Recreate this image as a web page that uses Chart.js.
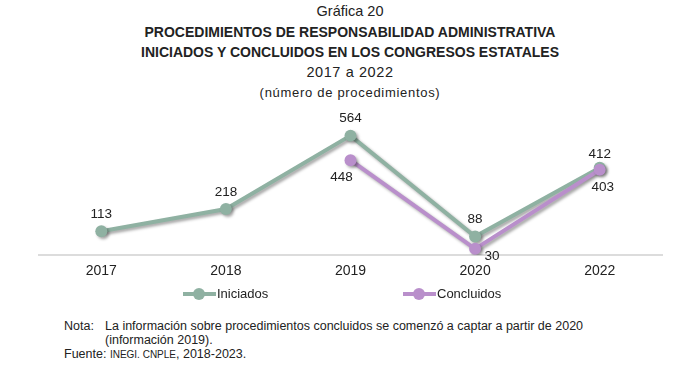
<!DOCTYPE html>
<html>
<head>
<meta charset="utf-8">
<script src="https://cdn.jsdelivr.net/npm/chart.js@4/dist/chart.umd.min.js"></script>
<style>
  body { margin: 0; background: #fff; font-family: "Liberation Sans", Arial, sans-serif; color: #222; }
  #wrap { position: relative; width: 700px; height: 375px; overflow: hidden; }
  .t { position: absolute; left: 0; width: 700px; text-align: center; white-space: nowrap; }
  #chartBox { position: absolute; left: 0; top: 0; width: 700px; height: 295px; }
  #legend { position: absolute; top: 286px; left: 0; width: 700px; height: 18px; font-size: 13px; }
  .lg { position: absolute; display: flex; align-items: center; }
  .sym { position: relative; width: 33px; height: 12px; margin-right: 1px; }
  .sym .ln { position: absolute; left: 0; right: 0; top: 4px; height: 4px; }
  .sym .dt { position: absolute; left: 10px; top: 0; width: 12px; height: 12px; border-radius: 50%; }
  .note { position: absolute; font-size: 12.5px; white-space: nowrap; }
</style>
</head>
<body>
<div id="wrap">
  <div class="t" style="top:3px;font-size:14.5px;">Gráfica 20</div>
  <div class="t" style="top:24px;font-size:14px;font-weight:bold;">PROCEDIMIENTOS DE RESPONSABILIDAD ADMINISTRATIVA</div>
  <div class="t" style="top:44px;font-size:14px;font-weight:bold;">INICIADOS Y CONCLUIDOS EN LOS CONGRESOS ESTATALES</div>
  <div class="t" style="top:64px;font-size:14.5px;letter-spacing:0.6px;">2017 a 2022</div>
  <div class="t" style="top:85px;font-size:13px;letter-spacing:0.7px;">(número de procedimientos)</div>
  <div id="chartBox"><canvas id="chart"></canvas></div>
  <div id="legend"></div>
  <div class="note" style="left:64px;top:319px;">Nota:</div>
  <div class="note" style="left:105px;top:319px;">La información sobre procedimientos concluidos se comenzó a captar a partir de 2020</div>
  <div class="note" style="left:105px;top:333px;">(información 2019).</div>
  <div class="note" style="left:64px;top:347px;">Fuente: <span style="font-size:10px;">INEGI. CNPLE</span>, 2018-2023.</div>
</div>
<script>
const years = ["2017", "2018", "2019", "2020", "2022"];
const iniciados = [113, 218, 564, 88, 412];
const concluidos = [null, null, 448, 30, 403];
const seriesNames = ["Iniciados", "Concluidos"];
const seriesColors = ["#8fb1a2", "#b98fcb"];

// small nudges for value labels, per series
const labelPlacement = [
  [[0, -17], [0, -17], [0, -17], [0, -17], [0, -14]],
  [null, null, [-9, 17], [17, 7], [3, 18]]
];

const shadowPlugin = {
  id: "lineShadow",
  beforeDatasetDraw(chart) {
    const ctx = chart.ctx;
    ctx.save();
    ctx.shadowColor = "rgba(0,0,0,0.35)";
    ctx.shadowBlur = 3;
    ctx.shadowOffsetX = 2;
    ctx.shadowOffsetY = 2;
  },
  afterDatasetDraw(chart) {
    chart.ctx.restore();
  }
};

const valueLabels = {
  id: "valueLabels",
  afterDatasetsDraw(chart) {
    const ctx = chart.ctx;
    ctx.save();
    ctx.font = "13.5px 'Liberation Sans', Arial, sans-serif";
    ctx.fillStyle = "#222";
    ctx.textAlign = "center";
    ctx.textBaseline = "middle";
    chart.data.datasets.forEach((ds, i) => {
      chart.getDatasetMeta(i).data.forEach((pt, j) => {
        const v = ds.data[j];
        if (v == null) return;
        const off = labelPlacement[i][j] || [0, 0];
        ctx.fillText(String(v), pt.x + off[0], pt.y + off[1]);
      });
    });
    ctx.restore();
  }
};

new Chart(document.getElementById("chart"), {
  type: "line",
  data: {
    labels: years,
    datasets: [
      {
        label: seriesNames[0],
        data: iniciados,
        borderColor: seriesColors[0],
        backgroundColor: seriesColors[0],
        borderWidth: 4,
        pointRadius: 6,
        pointBorderWidth: 0,
        tension: 0,
        order: 2
      },
      {
        label: seriesNames[1],
        data: concluidos,
        borderColor: seriesColors[1],
        backgroundColor: seriesColors[1],
        borderWidth: 4,
        pointRadius: 6,
        pointBorderWidth: 0,
        tension: 0,
        order: 1
      }
    ]
  },
  plugins: [shadowPlugin, valueLabels],
  options: {
    responsive: true,
    maintainAspectRatio: false,
    animation: false,
    layout: { padding: { left: 39, right: 38, top: 128, bottom: 7 } },
    plugins: {
      legend: { display: false },
      tooltip: { enabled: false }
    },
    scales: {
      x: {
        offset: true,
        grid: { display: false, drawTicks: false },
        border: { display: true, color: "#dcdcdc", width: 2 },
        ticks: {
          color: "#222",
          padding: 8,
          font: { family: "'Liberation Sans', Arial, sans-serif", size: 14 }
        }
      },
      y: {
        display: false,
        min: 0,
        max: 600
      }
    }
  }
});

// legend: line with a dot in the middle
const legend = document.getElementById("legend");
const legendX = [183, 403];
seriesNames.forEach((name, i) => {
  const item = document.createElement("div");
  item.className = "lg";
  item.style.left = legendX[i] + "px";
  item.innerHTML =
    '<span class="sym"><span class="ln" style="background:' + seriesColors[i] + '"></span>' +
    '<span class="dt" style="background:' + seriesColors[i] + '"></span></span>' + name;
  legend.appendChild(item);
});
</script>
</body>
</html>
